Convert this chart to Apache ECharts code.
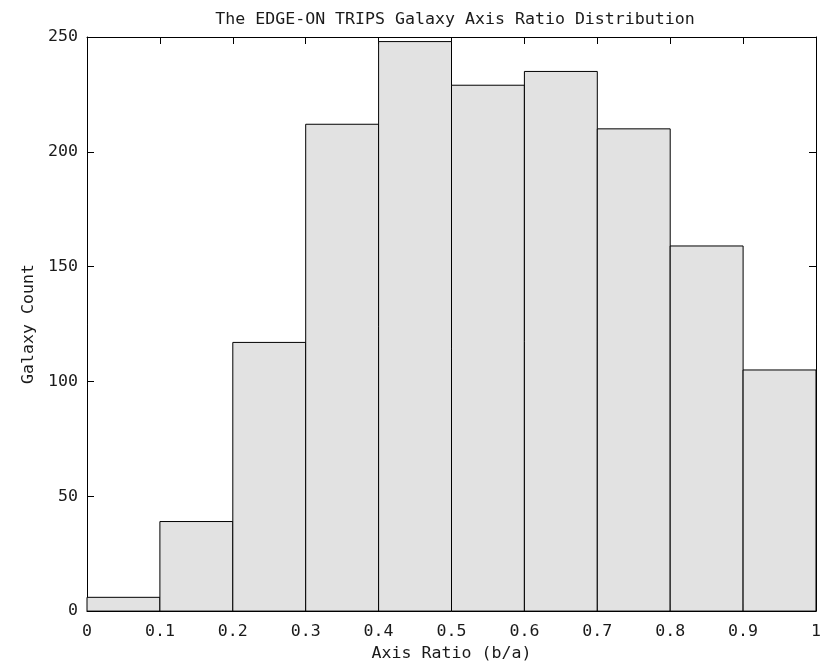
<!DOCTYPE html>
<html>
<head>
<meta charset="utf-8">
<script src="https://cdn.jsdelivr.net/npm/echarts@6/dist/echarts.min.js"></script>
<style>html,body{margin:0;padding:0;background:#fff}#c{width:826px;height:667px}</style>
</head>
<body>
<div id="c"></div>
<script>
const binEdges = [0, 0.1, 0.2, 0.3, 0.4, 0.5, 0.6, 0.7, 0.8, 0.9, 1.0];
const counts = [6, 39, 117, 212, 248, 229, 235, 210, 159, 105];
const xTickLabels = ['0', '0.1', '0.2', '0.3', '0.4', '0.5', '0.6', '0.7', '0.8', '0.9', '1'];
const yTickLabels = ['0', '50', '100', '150', '200', '250'];
const titleText = 'The EDGE-ON TRIPS Galaxy Axis Ratio Distribution';
const xName = 'Axis Ratio (b/a)';
const yName = 'Galaxy Count';

const FONT = 'DejaVu Sans Mono';
const FS = 16.6;
const TXT = '#1a1a1a';

const data = counts.map((c, i) => [binEdges[i], binEdges[i + 1], c]);

const chart = echarts.init(document.getElementById('c'), null, {renderer: 'canvas'});
const lineStyle = {color: '#000', width: 1};
chart.setOption({
  animation: false,
  backgroundColor: '#fff',
  title: {
    text: titleText, left: 450, top: 6, textAlign: 'center',
    textStyle: {fontFamily: FONT, fontSize: FS, fontWeight: 'normal', color: TXT}
  },
  grid: {left: 87, right: 10, top: 37, bottom: 55, containLabel: false},
  xAxis: [{
    type: 'value', min: 0, max: 1, interval: 0.1, position: 'bottom',
    name: xName, nameLocation: 'middle', nameGap: 33,
    nameTextStyle: {fontFamily: FONT, fontSize: FS, color: TXT},
    axisLine: {show: true, onZero: false, lineStyle},
    axisTick: {show: true, inside: true, length: 7, lineStyle},
    axisLabel: {fontFamily: FONT, fontSize: FS, color: TXT, margin: 12,
      formatter: (v) => xTickLabels[Math.round(v * 10)]},
    splitLine: {show: false}
  }, {
    type: 'value', min: 0, max: 1, interval: 0.1, position: 'top',
    axisLine: {show: true, onZero: false, lineStyle},
    axisTick: {show: true, inside: true, length: 7, lineStyle},
    axisLabel: {show: false}, splitLine: {show: false}
  }],
  yAxis: [{
    type: 'value', min: 0, max: 250, interval: 50, position: 'left',
    name: yName, nameLocation: 'middle', nameGap: 50, nameRotate: 90,
    nameTextStyle: {fontFamily: FONT, fontSize: FS, color: TXT},
    axisLine: {show: true, onZero: false, lineStyle},
    axisTick: {show: true, inside: true, length: 7, lineStyle},
    axisLabel: {fontFamily: FONT, fontSize: FS, color: TXT, margin: 9,
      formatter: (v) => yTickLabels[Math.round(v / 50)]},
    splitLine: {show: false}
  }, {
    type: 'value', min: 0, max: 250, interval: 50, position: 'right',
    axisLine: {show: true, onZero: false, lineStyle},
    axisTick: {show: true, inside: true, length: 7, lineStyle},
    axisLabel: {show: false}, splitLine: {show: false}
  }],
  series: [{
    type: 'custom',
    xAxisIndex: 0, yAxisIndex: 0,
    encode: {x: [0, 1], y: 2},
    data: data,
    renderItem: function (params, api) {
      const p0 = api.coord([api.value(0), api.value(2)]);
      const p1 = api.coord([api.value(1), 0]);
      return {
        type: 'rect',
        shape: {x: p0[0], y: p0[1], width: p1[0] - p0[0], height: p1[1] - p0[1]},
        style: {fill: '#e2e2e2', stroke: '#000', lineWidth: 1}
      };
    }
  }]
});
</script>
</body>
</html>
